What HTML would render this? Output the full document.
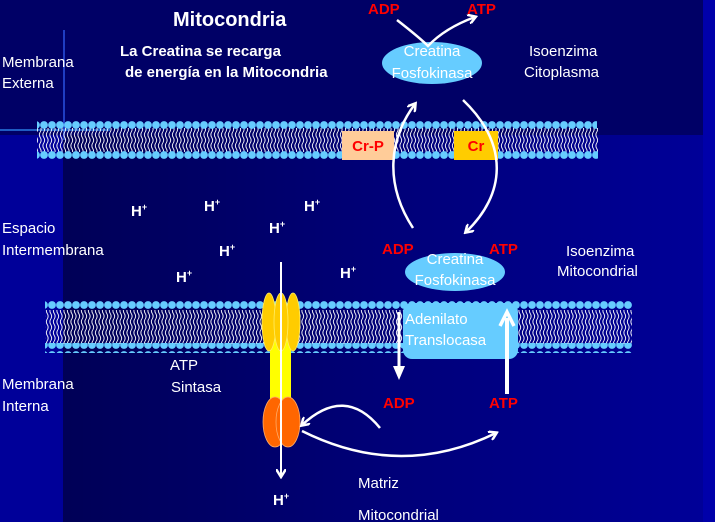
<!DOCTYPE html>
<html><head><meta charset="utf-8"><style>
html,body{margin:0;padding:0;width:715px;height:522px;overflow:hidden;background:#000066}
svg{display:block}
text{font-family:"Liberation Sans",Arial,sans-serif}
</style></head><body>
<svg width="715" height="522" viewBox="0 0 715 522" xmlns="http://www.w3.org/2000/svg">
<defs>
<linearGradient id="lg" x1="0" y1="0" x2="1" y2="0">
<stop offset="0" stop-color="#000050"/><stop offset="0.5" stop-color="#000075"/><stop offset="1" stop-color="#000099"/>
</linearGradient>
<pattern id="tails" width="3.5" height="11" patternUnits="userSpaceOnUse">
<path d="M1.75,0 Q0,2.75 1.75,5.5 Q3.5,8.25 1.75,11" stroke="#ffffff" stroke-width="1" fill="none" opacity="0.9"/>
</pattern>
<pattern id="heads" width="8" height="10" patternUnits="userSpaceOnUse">
<circle cx="4" cy="5" r="3.9" fill="#66ccff"/>
</pattern>
<marker id="ah" markerWidth="10" markerHeight="10" refX="7" refY="5" orient="auto" markerUnits="userSpaceOnUse">
<path d="M0,0 L8,5 L0,10" fill="none" stroke="#fff" stroke-width="2.5"/>
</marker>
</defs>
<rect width="715" height="522" fill="#000066"/>
<rect x="0" y="135" width="715" height="387" fill="url(#lg)"/>
<rect x="0" y="135" width="63" height="387" fill="#000099"/>
<rect x="703" y="0" width="12" height="522" fill="#0000aa"/>
<rect x="63" y="30" width="2" height="110" fill="#3366ff" opacity="0.6"/>
<rect x="0" y="129" width="110" height="2" fill="#3399ff" opacity="0.6"/>

<!-- outer membrane -->
<rect x="37" y="128" width="561" height="24" fill="url(#tails)"/>
<rect x="37" y="119" width="560" height="10" fill="url(#heads)"/>
<rect x="37" y="151" width="561" height="10" fill="url(#heads)"/>

<!-- inner membrane -->
<rect x="45" y="310" width="587" height="34" fill="url(#tails)"/>
<rect x="45" y="301" width="587" height="10" fill="url(#heads)"/>
<rect x="45" y="343" width="587" height="10" fill="url(#heads)"/>

<!-- translocase -->
<rect x="403" y="303" width="115" height="56" rx="9" fill="#66ccff"/>
<text x="405" y="324" fill="#fff" font-size="15">Adenilato</text>
<text x="405" y="345" fill="#fff" font-size="15">Translocasa</text>

<!-- ATP synthase -->
<rect x="270" y="338" width="21" height="65" fill="#ffff00"/>
<ellipse cx="269" cy="322" rx="7" ry="29" fill="#ffcc00" stroke="#ffee66" stroke-width="0.8"/>
<ellipse cx="293" cy="322" rx="7" ry="29" fill="#ffcc00" stroke="#ffee66" stroke-width="0.8"/>
<ellipse cx="281" cy="322" rx="7" ry="29" fill="#ffcc00" stroke="#ffee66" stroke-width="0.8"/>
<ellipse cx="275" cy="422" rx="12" ry="25" fill="#ff6600" stroke="#ffaa66" stroke-width="0.8"/>
<ellipse cx="288" cy="422" rx="12" ry="25" fill="#ff6600" stroke="#ffaa66" stroke-width="0.8"/>
<line x1="281" y1="262" x2="281" y2="476" stroke="#fff" stroke-width="2" marker-end="url(#ah)"/>

<!-- enzymes -->
<ellipse cx="432" cy="63" rx="50" ry="21" fill="#66ccff"/>
<text x="432" y="56" fill="#fff" font-size="15" text-anchor="middle">Creatina</text>
<text x="432" y="78" fill="#fff" font-size="15" text-anchor="middle">Fosfokinasa</text>
<ellipse cx="455" cy="272" rx="50" ry="19" fill="#66ccff"/>
<text x="455" y="264" fill="#fff" font-size="15" text-anchor="middle">Creatina</text>
<text x="455" y="285" fill="#fff" font-size="15" text-anchor="middle">Fosfokinasa</text>

<!-- Cr boxes -->
<rect x="342" y="131" width="52" height="29" fill="#ffcc99"/>
<text x="368" y="151" fill="#ff0000" font-size="15" font-weight="bold" text-anchor="middle">Cr-P</text>
<rect x="454" y="131" width="44" height="29" fill="#ffcc00"/>
<text x="476" y="151" fill="#ff0000" font-size="15" font-weight="bold" text-anchor="middle">Cr</text>

<!-- arrows -->
<g fill="none" stroke="#fff" stroke-width="2.5">
<path d="M397,20 Q420,38 428,46 Q445,28 475,17" marker-end="url(#ah)"/>
<path d="M413,228 C385,185 388,140 415,104" marker-end="url(#ah)"/>
<path d="M463,100 C510,145 505,195 466,232" marker-end="url(#ah)"/>
<path d="M380,428 Q345,385 302,425" marker-end="url(#ah)"/>
<path d="M302,431 Q400,480 496,433" marker-end="url(#ah)"/>
</g>
<line x1="399" y1="312" x2="399" y2="368" stroke="#fff" stroke-width="3"/>
<path d="M393,366 L405,366 L399,380 Z" fill="#fff"/>
<line x1="507" y1="394" x2="507" y2="318" stroke="#fff" stroke-width="4"/>
<path d="M500,326 L507,312 L514,326" fill="none" stroke="#fff" stroke-width="3.5"/>

<!-- texts -->
<g fill="#fff">
<text x="173" y="26" font-size="20" font-weight="bold">Mitocondria</text>
<text x="120" y="56" font-size="15" font-weight="bold">La Creatina se recarga</text>
<text x="125" y="77" font-size="15" font-weight="bold">de energía en la Mitocondria</text>
<text x="2" y="67" font-size="15">Membrana</text>
<text x="2" y="88" font-size="15">Externa</text>
<text x="529" y="56" font-size="15">Isoenzima</text>
<text x="524" y="77" font-size="15">Citoplasma</text>
<text x="2" y="233" font-size="15">Espacio</text>
<text x="2" y="255" font-size="15">Intermembrana</text>
<text x="566" y="256" font-size="15">Isoenzima</text>
<text x="557" y="276" font-size="15">Mitocondrial</text>
<text x="2" y="389" font-size="15">Membrana</text>
<text x="2" y="411" font-size="15">Interna</text>
<text x="170" y="370" font-size="15">ATP</text>
<text x="171" y="392" font-size="15">Sintasa</text>
<text x="358" y="488" font-size="15">Matriz</text>
<text x="358" y="520" font-size="15">Mitocondrial</text>
</g>
<g fill="#fff" font-size="15" font-weight="bold">
<text x="131" y="216">H<tspan font-size="9" dy="-6">+</tspan></text>
<text x="204" y="211">H<tspan font-size="9" dy="-6">+</tspan></text>
<text x="304" y="211">H<tspan font-size="9" dy="-6">+</tspan></text>
<text x="269" y="233">H<tspan font-size="9" dy="-6">+</tspan></text>
<text x="219" y="256">H<tspan font-size="9" dy="-6">+</tspan></text>
<text x="176" y="282">H<tspan font-size="9" dy="-6">+</tspan></text>
<text x="340" y="278">H<tspan font-size="9" dy="-6">+</tspan></text>
<text x="273" y="505">H<tspan font-size="9" dy="-6">+</tspan></text>
</g>
<g fill="#ff0000" font-size="15" font-weight="bold">
<text x="368" y="14">ADP</text>
<text x="467" y="14">ATP</text>
<text x="382" y="254">ADP</text>
<text x="489" y="254">ATP</text>
<text x="383" y="408">ADP</text>
<text x="489" y="408">ATP</text>
</g>
</svg>
</body></html>
